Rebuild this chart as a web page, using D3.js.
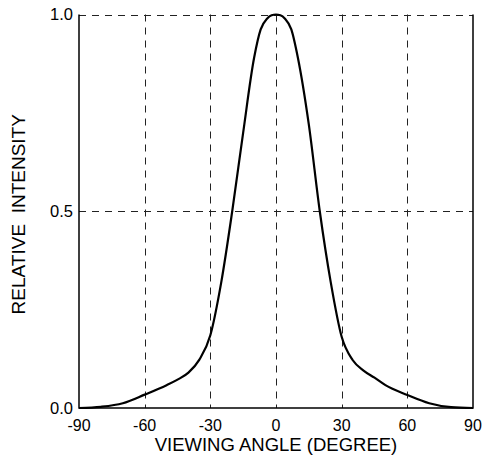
<!DOCTYPE html>
<html>
<head>
<meta charset="utf-8">
<script src="https://cdn.jsdelivr.net/npm/d3@7"></script>
<style>
  body { margin: 0; background: #fff; }
  text { font-family: "Liberation Sans", Arial, sans-serif; fill: #000; }
</style>
</head>
<body>
<div id="chart"></div>
<script>
const angles = [-90, -80, -70, -60, -50, -45, -40, -35, -30, -25, -20, -15, -10, -7, -4, -2, 0,
                2, 4, 7, 10, 15, 20, 25, 30, 35, 40, 45, 50, 60, 70, 80, 90];
const intensity = [0, 0.003, 0.012, 0.034, 0.058, 0.072, 0.09, 0.123, 0.185, 0.32, 0.5, 0.70, 0.89, 0.962, 0.99, 0.998, 1.0,
                   0.998, 0.99, 0.962, 0.89, 0.72, 0.5, 0.32, 0.181, 0.122, 0.095, 0.077, 0.058, 0.033, 0.012, 0.002, 0];
const xTicks = [-90, -60, -30, 0, 30, 60, 90];
const yTicks = [0.0, 0.5, 1.0];

const width = 492;
const height = 458;
const margin = {top: 14.5, right: 19, bottom: 50, left: 79};

const svg = d3.select("#chart")
    .append("svg")
    .attr("width", width)
    .attr("height", height);

const x = d3.scaleLinear()
    .domain([-90, 90])
    .range([margin.left, width - margin.right]);

const y = d3.scaleLinear()
    .domain([0, 1])
    .range([height - margin.bottom, margin.top]);

const dash = "7,6";

// grid lines
svg.append("g")
    .selectAll("line")
    .data(xTicks.slice(1, -1))
    .enter()
    .append("line")
    .attr("x1", d => Math.round(x(d)) + 0.5)
    .attr("x2", d => Math.round(x(d)) + 0.5)
    .attr("y1", y(1))
    .attr("y2", y(0))
    .attr("stroke", "#222")
    .attr("stroke-dasharray", dash);

svg.append("g")
    .selectAll("line")
    .data(yTicks.slice(1))
    .enter()
    .append("line")
    .attr("x1", x(-90))
    .attr("x2", x(90))
    .attr("y1", d => Math.round(y(d)) + 0.5)
    .attr("y2", d => Math.round(y(d)) + 0.5)
    .attr("stroke", "#222")
    .attr("stroke-dasharray", dash);

// frame: left, right, bottom solid
svg.append("path")
    .attr("d", `M${x(-90)},${y(1)} V${y(0)} H${x(90)} V${y(1)}`)
    .attr("fill", "none")
    .attr("stroke", "#000")
    .attr("stroke-width", 1.5);

// tick labels
svg.append("g")
    .selectAll("text")
    .data(xTicks)
    .enter()
    .append("text")
    .attr("x", d => x(d))
    .attr("y", y(0) + 22.5)
    .attr("text-anchor", "middle")
    .style("font-size", "16px")
    .text(d => d);

svg.append("g")
    .selectAll("text")
    .data(yTicks)
    .enter()
    .append("text")
    .attr("x", x(-90) - 6)
    .attr("y", d => y(d))
    .attr("dy", "0.36em")
    .attr("text-anchor", "end")
    .style("font-size", "16.5px")
    .text(d => d.toFixed(1));

// axis titles
svg.append("text")
    .attr("x", (x(-90) + x(90)) / 2)
    .attr("y", 451)
    .attr("text-anchor", "middle")
    .style("font-size", "18.5px")
    .text("VIEWING ANGLE (DEGREE)");

svg.append("text")
    .attr("transform", `translate(25, ${(y(0) + y(1)) / 2 + 3}) rotate(-90)`)
    .attr("text-anchor", "middle")
    .style("font-size", "19px")
    .style("white-space", "pre")
    .text("RELATIVE  INTENSITY");

// curve
const data = angles.map((a, i) => ({angle: a, value: intensity[i]}));

const line = d3.line()
    .x(d => x(d.angle))
    .y(d => y(d.value))
    .curve(d3.curveMonotoneX);

svg.append("path")
    .datum(data)
    .attr("d", line)
    .attr("fill", "none")
    .attr("stroke", "#000")
    .attr("stroke-width", 2.2);
</script>
</body>
</html>
